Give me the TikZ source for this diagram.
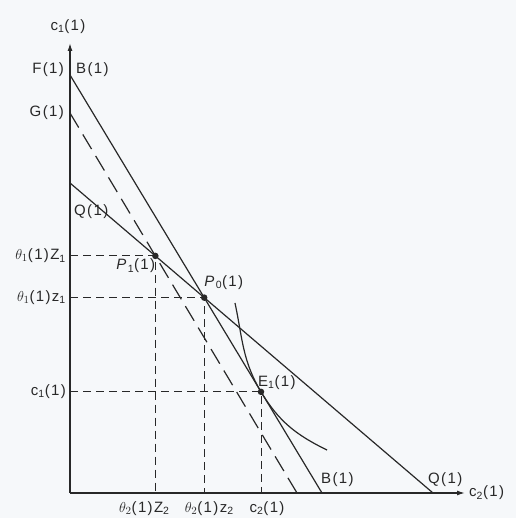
\documentclass[tikz,border=0pt]{standalone}
\usepackage{fontspec}
\setmainfont[LetterSpace=9]{Liberation Sans}
\usepackage{tikz}
\usetikzlibrary{arrows.meta,positioning,calc}
\definecolor{paper}{RGB}{246,248,250}
\definecolor{ink}{RGB}{40,40,40}

\begin{document}
\begin{tikzpicture}[x=1pt,y=1pt,every node/.style={font=\fontsize{15}{17}\selectfont,inner sep=1pt,text=ink},
  budget/.style={draw=ink,line width=1.2pt},
  guide/.style={draw=ink,line width=0.9pt,dash pattern=on 8pt off 5pt},
  dot/.style={circle,fill=ink,inner sep=0pt,minimum size=6.5pt}]
\fill[paper] (-70,-25) rectangle (446,493);
\useasboundingbox (-70,-25) rectangle (446,493);
% axes
\coordinate (O) at (0,0);
\coordinate (ytop) at (0,450);
\coordinate (xend) at (395,0);
\draw[ink,line width=1.4pt,-{Latex[length=8pt,width=5pt]}] (O) -- (ytop);
\draw[ink,line width=1.4pt,-{Latex[length=8pt,width=5pt]}] (O) -- (xend);
\node[anchor=south] (c1ax) at (-2,458) {c\textsubscript{1}(1)};
\node[anchor=west] (c2ax) at ($(xend)+(3,0)$) {c\textsubscript{2}(1)};
% budget lines
\coordinate (F) at (0,418);
\coordinate (Bend) at (252,0);
\coordinate (G) at (0,380);
\coordinate (Gend) at (227,0);
\coordinate (Q) at (0,310);
\coordinate (Qend) at (363,0);
\draw[budget] (F) -- (Bend);
\draw[budget] (Q) -- (Qend);
\draw[ink,line width=1.2pt,dash pattern=on 17pt off 8pt] (G) -- (Gend);
\coordinate (P1) at (intersection of Q--Qend and G--Gend);
\coordinate (P0) at (intersection of Q--Qend and F--Bend);
\coordinate (E1) at ($(F)!0.758!(Bend)$);
% indifference curve
\draw[budget] (165,190) to[out=-78,in=121] (E1) to[out=-59,in=154] (257,43);
% projections
\draw[guide] (O |- P1) -- (P1) -- (P1 |- O);
\draw[guide] (O |- P0) -- (P0) -- (P0 |- O);
\draw[guide] (O |- E1) -- (E1) -- (E1 |- O);
\node[dot] (p1dot) at (P1) {};
\node[dot] (p0dot) at (P0) {};
\node[dot] (e1dot) at (E1) {};
% labels
\node[anchor=east] (Flab) at (-5,423) {F(1)};
\node[anchor=west] (Blab) at (5,423) {B(1)};
\node[anchor=east] (Glab) at (-5,380) {G(1)};
\node[anchor=west] (Qlab) at (3,281) {Q(1)};
\node[anchor=east] (thZ1) at ($(O |- P1)+(-3,0)$) {$\theta_1$(1)Z\textsubscript{1}};
\node[anchor=east] (thz1) at ($(O |- P0)+(-3,0)$) {$\theta_1$(1)z\textsubscript{1}};
\node[anchor=east] (c1lab) at ($(O |- E1)+(-3,0)$) {c\textsubscript{1}(1)};
\node[anchor=north] (thZ2) at ($(P1 |- O)+(-11,-7)$) {$\theta_2$(1)Z\textsubscript{2}};
\node[anchor=north] (thz2) at ($(P0 |- O)+(5,-7)$) {$\theta_2$(1)z\textsubscript{2}};
\node[anchor=north] (c2lab) at ($(E1 |- O)+(6,-7)$) {c\textsubscript{2}(1)};
\node[anchor=south west] (Bbot) at ($(Bend)+(-2,5)$) {B(1)};
\node[anchor=south west] (Qbot) at ($(Qend)+(-6,5)$) {Q(1)};
\node[anchor=north east] (P1lab) at ($(P1)+(1,-2)$) {\textit{P}\textsubscript{1}(1)};
\node[anchor=south west] (P0lab) at ($(P0)+(-1,7)$) {\textit{P}\textsubscript{0}(1)};
\node[anchor=south west] (E1lab) at ($(E1)+(-4,1)$) {E\textsubscript{1}(1)};
\end{tikzpicture}
\end{document}
